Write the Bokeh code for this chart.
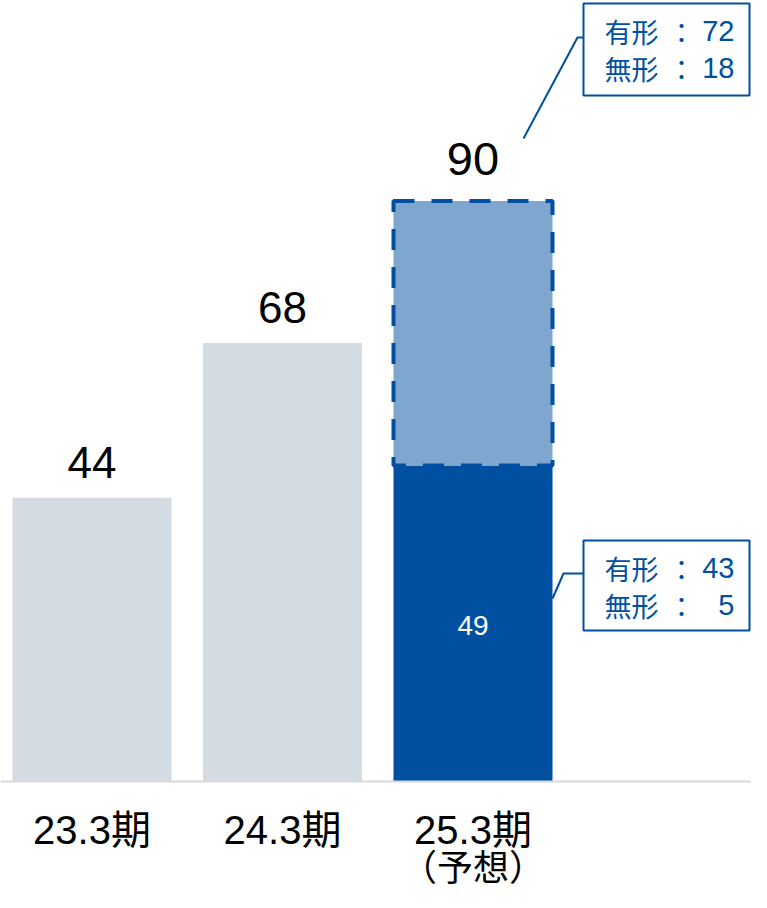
from bokeh.plotting import figure
from bokeh.models import Span, Range1d
from bokeh.core.properties import value
from bokeh.embed import file_html
from bokeh.resources import INLINE

# ---------------- data ----------------
periods = ["23.3期", "24.3期", "25.3期"]
period_sub = ["", "", "（予想）"]
totals = [44, 68, 90]
fy25_parts = [49, 41]            # committed part, additional part (sum 90)
box_upper_labels = ["有形", "無形"]
box_upper_values = [72, 18]
box_lower_labels = ["有形", "無形"]
box_lower_values = [43, 5]

# ---------------- style ----------------
GRAY = "#d3dce2"
DARK = "#004fa0"
LIGHT = "#7fa6cf"
TXT_BLUE = "#0050a0"
FONT = "Liberation Sans, Noto Sans CJK JP"
CJK = "Noto Sans CJK JP"

W, H = 751, 892
BAR_CENTER0 = 91.5   # px of first bar centre
STEP = 190.5         # px per category
BASE = 781.0         # px of zero line
PPU = 6.45           # px per value unit


def sx(px):
    return (px - BAR_CENTER0) / STEP


def sy(py):
    return (BASE - py) / PPU


p = figure(width=W, height=H, output_backend="svg", toolbar_location=None,
           min_border=0, outline_line_color=None)
p.x_range = Range1d(sx(0), sx(W))
p.y_range = Range1d(sy(H), sy(0))
p.axis.visible = False
p.grid.visible = False
p.background_fill_color = "white"
p.border_fill_color = "white"

xs = list(range(len(periods)))
bw = 159 / STEP

# actual bars
p.vbar(x=xs[:2], top=totals[:2], bottom=0, width=bw, fill_color=GRAY, line_color=None)
# forecast stacked bar
p.vbar(x=[xs[2]], bottom=[0], top=[fy25_parts[0]], width=bw, fill_color=DARK, line_color=None)
p.vbar(x=[xs[2]], bottom=[fy25_parts[0]], top=[fy25_parts[0] + fy25_parts[1]], width=bw,
       fill_color=LIGHT, line_color=DARK, line_width=4, line_dash="21 17")

# zero line
p.add_layout(Span(location=0, dimension="width", line_color="#d9d9d9", line_width=2))

# value labels
p.text(x=xs[:2], y=totals[:2], text=[str(v) for v in totals[:2]], text_align="center",
       text_baseline="middle", y_offset=-35, text_font=value(FONT),
       text_font_size="44px", text_color="black")
p.text(x=[xs[2]], y=[totals[2]], text=[str(totals[2])], text_align="center",
       text_baseline="middle", y_offset=-42, text_font=value(FONT),
       text_font_size="47px", text_color="black")
p.text(x=[xs[2]], y=[fy25_parts[0] / 2], text=[str(fy25_parts[0])], text_align="center",
       text_baseline="middle", y_offset=2, text_font=value(FONT), text_font_size="28px",
       text_color="white")

# category labels
p.text(x=xs, y=[sy(829)] * 3, text=periods, text_align="center", text_baseline="middle",
       text_font=value(FONT), text_font_size="40px", text_color="black")
p.text(x=xs, y=[sy(864)] * 3, text=period_sub, text_align="center", text_baseline="middle",
       text_font=value(CJK), text_font_size="36px", text_color="black")

# annotation boxes
def note_box(top_px, bottom_px, labels, values, line_centres, leader):
    ys = [sy(c) for c in line_centres]
    p.line(x=[sx(a) for a, _ in leader], y=[sy(b) for _, b in leader],
           line_color=DARK, line_width=2)
    p.quad(left=[sx(583)], right=[sx(749)], top=[sy(top_px)], bottom=[sy(bottom_px)],
           fill_color="white", line_color=DARK, line_width=2)
    p.text(x=[sx(604)] * 2, y=ys, text=labels, text_align="left", text_baseline="middle",
           text_font=value(CJK), text_font_size="27px", text_color=TXT_BLUE)
    p.text(x=[sx(681)] * 2, y=ys, text=["：", "："], text_align="center",
           text_baseline="middle", text_font=value(CJK), text_font_size="27px",
           text_color=TXT_BLUE)
    p.text(x=[sx(734)] * 2, y=ys, text=[str(v) for v in values], text_align="right",
           text_baseline="middle", text_font=value(FONT), text_font_size="29px",
           text_color=TXT_BLUE)

note_box(3, 95, box_upper_labels, box_upper_values, [30.5, 67.5],
         [(523, 138), (577, 37), (583, 37)])
note_box(540, 630, box_lower_labels, box_lower_values, [567.5, 604.5],
         [(552, 598), (563, 573), (583, 573)])

open("out.html", "w").write(file_html(p, INLINE))
